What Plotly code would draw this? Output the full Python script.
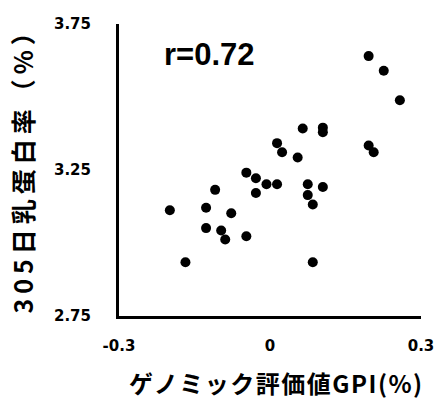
import plotly.graph_objects as go

# Genomic evaluation (GPI, %) vs. 305-day milk protein rate (%)
gpi = [0.196, 0.226, 0.258, 0.065, 0.105, 0.105, 0.196, 0.206, 0.014, 0.024,
       0.055, -0.047, -0.028, -0.007, 0.014, 0.075, 0.105, -0.109, -0.028, 0.075,
       0.085, -0.199, -0.127, -0.077, -0.127, -0.097, -0.089, -0.047, -0.168, 0.085]
protein = [3.640, 3.590, 3.489, 3.392, 3.395, 3.379, 3.334, 3.311, 3.342, 3.311,
           3.293, 3.241, 3.222, 3.201, 3.201, 3.201, 3.192, 3.182, 3.171, 3.164,
           3.132, 3.112, 3.121, 3.102, 3.051, 3.043, 3.012, 3.023, 2.934, 2.934]

x_ticks = [-0.3, 0, 0.3]
x_tick_labels = ["-0.3", "0", "0.3"]
y_ticks = [2.75, 3.25, 3.75]
y_tick_labels = ["2.75", "3.25", "3.75"]

x_title = "ゲノミック評価値GPI(%)"
y_title = "305日乳蛋白率（%）"
r_label = "r=0.72"

JP = "Noto Sans CJK JP"
TICK = "DejaVu Sans"

fig = go.Figure(go.Scatter(
    x=gpi, y=protein, mode="markers",
    marker=dict(color="black", size=10, line=dict(width=0)),
    cliponaxis=False, hoverinfo="skip",
))

fig.update_layout(
    width=440, height=400,
    margin=dict(l=119, r=19, t=24, b=84, autoexpand=False),
    paper_bgcolor="white", plot_bgcolor="white",
    showlegend=False,
    xaxis=dict(
        range=[-0.3, 0.3], tickvals=x_ticks, ticktext=x_tick_labels,
        showgrid=False, zeroline=False, showline=True,
        linecolor="black", linewidth=3, ticks="",
        tickfont=dict(family=TICK, size=15, color="black", weight="bold"),
        ticklabelstandoff=14,
    ),
    yaxis=dict(
        range=[2.75, 3.75], tickvals=y_ticks, ticktext=y_tick_labels,
        showgrid=False, zeroline=False, showline=True,
        linecolor="black", linewidth=3, ticks="",
        tickfont=dict(family=TICK, size=15, color="black", weight="bold"),
        ticklabelstandoff=22,
    ),
    annotations=[
        dict(text=r_label, xref="x", yref="paper", x=-0.215, y=0.895,
             xanchor="left", yanchor="middle", showarrow=False,
             font=dict(family="Liberation Sans", size=31, color="black", weight="bold")),
        dict(text='<span style="letter-spacing:1.5px">' + x_title + '</span>',
             xref="paper", yref="paper", x=0.52, y=-0.228,
             xanchor="center", yanchor="middle", showarrow=False,
             font=dict(family=JP, size=24, color="black", weight="bold")),
        dict(text='<span style="letter-spacing:5px">' + y_title + '</span>',
             xref="paper", yref="paper", x=-0.32, y=0.52,
             xanchor="center", yanchor="middle", showarrow=False, textangle=-90,
             font=dict(family=JP, size=25, color="black", weight="bold")),
    ],
)

fig.write_html("out.html")
